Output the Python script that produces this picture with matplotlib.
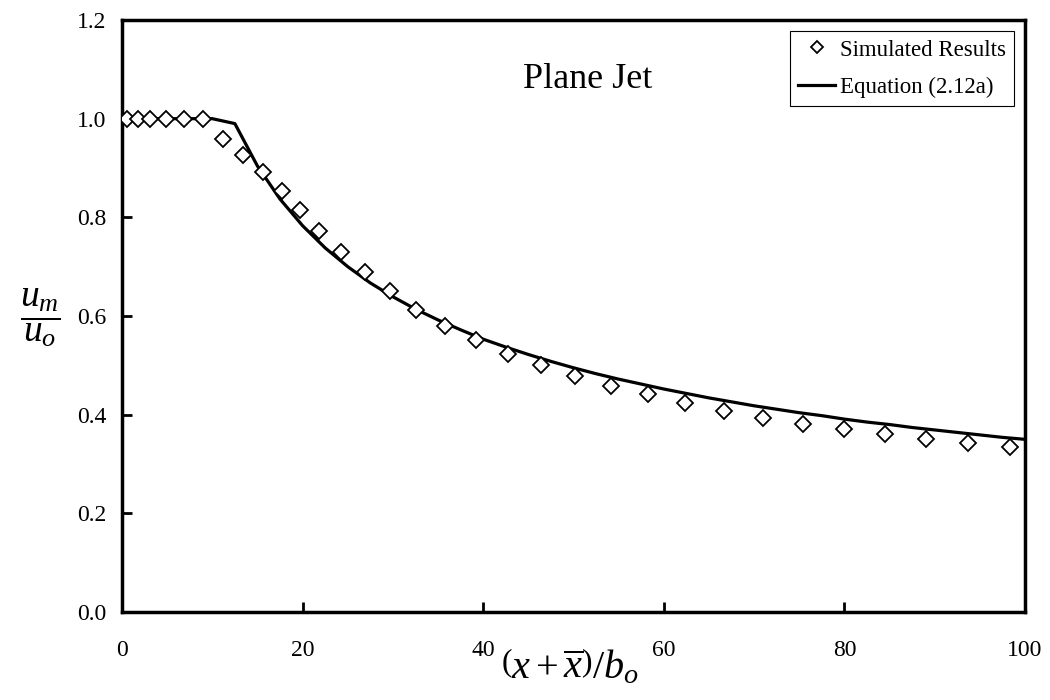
import matplotlib
matplotlib.use("Agg")
import matplotlib.pyplot as plt

plt.rcParams['font.family'] = ['Liberation Serif', 'DejaVu Serif']
plt.rcParams['mathtext.fontset'] = 'custom'
plt.rcParams['mathtext.rm'] = 'Liberation Serif'
plt.rcParams['mathtext.it'] = 'Liberation Serif:italic'
plt.rcParams['mathtext.bf'] = 'Liberation Serif:bold'

# Simulated results (diamonds)
sim_x = [0.5, 1.8, 3.1, 4.9, 6.9, 9.0, 11.2, 13.4, 15.6, 17.7, 19.7, 21.8, 24.3,
         26.9, 29.7, 32.6, 35.8, 39.2, 42.7, 46.4, 50.2, 54.1, 58.2, 62.3, 66.7,
         71.0, 75.4, 80.0, 84.5, 89.0, 93.7, 98.3]
sim_y = [1.0, 1.0, 1.0, 1.0, 1.0, 1.0, 0.959, 0.927, 0.891, 0.853, 0.815, 0.773,
         0.730, 0.690, 0.651, 0.613, 0.580, 0.552, 0.523, 0.500, 0.479, 0.458,
         0.441, 0.423, 0.408, 0.394, 0.381, 0.371, 0.360, 0.351, 0.343, 0.335]

# Equation (2.12a) curve
eq_x = [0, 2.5, 5, 7.5, 10, 12.5, 15, 17.5, 20, 22.5, 25, 27.5, 30, 32.5, 35,
        37.5, 40, 42.5, 45, 47.5, 50, 52.5, 55, 57.5, 60, 62.5, 65, 67.5, 70,
        72.5, 75, 77.5, 80, 82.5, 85, 87.5, 90, 92.5, 95, 97.5, 100]
eq_y = [1.0, 1.0, 1.0, 1.0, 1.0, 0.99, 0.904, 0.837, 0.783, 0.738, 0.700, 0.667,
        0.639, 0.614, 0.592, 0.572, 0.553, 0.537, 0.522, 0.508, 0.495, 0.483,
        0.472, 0.462, 0.452, 0.443, 0.434, 0.426, 0.418, 0.411, 0.404, 0.398,
        0.391, 0.385, 0.380, 0.374, 0.369, 0.364, 0.359, 0.354, 0.350]

x_ticks = [0, 20, 40, 60, 80, 100]
y_ticks = [0.0, 0.2, 0.4, 0.6, 0.8, 1.0, 1.2]

fig = plt.figure(figsize=(10.5, 7), dpi=100)
ax = fig.add_axes([122/1050, 88/700, 903/1050, 592/700])

ax.plot(sim_x, sim_y, linestyle='none', marker='D', markersize=8,
        markerfacecolor='white', markeredgecolor='black', markeredgewidth=1.3,
        label='Simulated Results', zorder=3)
ax.plot(eq_x, eq_y, color='black', linewidth=2.3, label='Equation (2.12a)', zorder=2)

ax.set_xlim(0, 100)
ax.set_ylim(0, 1.2)
ax.set_xticks(x_ticks)
ax.set_yticks(y_ticks)
ax.set_xticklabels([f'{v:d}' for v in x_ticks])
ax.set_yticklabels([f'{v:.1f}' for v in y_ticks])
ax.tick_params(direction='in', length=7, width=2, labelsize=17)
ax.tick_params(axis='x', pad=20)
ax.tick_params(axis='y', pad=11)
for s in ax.spines.values():
    s.set_linewidth(2.5)

ax.text(0.516, 0.899, 'Plane Jet', transform=ax.transAxes, fontsize=26,
        ha='center', va='center')

leg = ax.legend(loc='upper right', fontsize=16.5, fancybox=False,
                edgecolor='black', framealpha=1, borderaxespad=0.5,
                handlelength=1.6, handletextpad=0.2, borderpad=0.35,
                labelspacing=0.7, markerscale=0.8)
leg.get_frame().set_linewidth(0.8)

fig.text(40/1050, 1 - 318/700, r'$\dfrac{u_m}{u_o}$', fontsize=27,
         ha='center', va='center')
fig.text(570/1050, 1 - 667/700, r'$\left(x+\overline{x}\right)/b_o$', fontsize=29,
         ha='center', va='center')

fig.savefig('out.png', dpi=100)
